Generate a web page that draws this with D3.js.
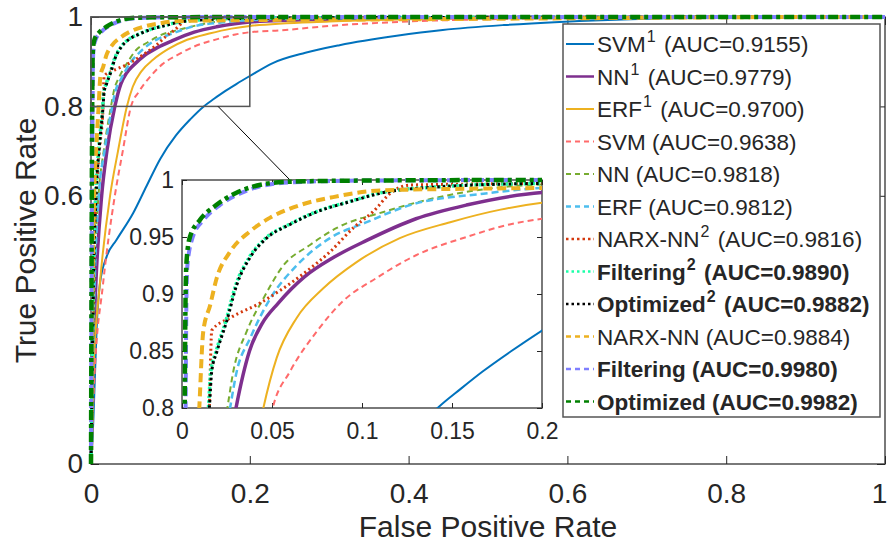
<!DOCTYPE html>
<html>
<head>
<meta charset="utf-8">
<script src="https://cdn.jsdelivr.net/npm/d3@7"></script>
<style>
  body { margin: 0; background: #fff; }
  text { font-family: "Liberation Sans", Arial, Helvetica, sans-serif; fill: #262626; }
</style>
</head>
<body>
<svg id="chart" width="888" height="545"></svg>
<script>
// ROC curves, [false positive rate, true positive rate]
const svm1Roc = [[0,0],[0.003,0.1],[0.005,0.2],[0.0072,0.307],[0.0113,0.404],[0.0197,0.464],[0.032,0.501],[0.053,0.561],[0.07,0.622],[0.087,0.682],[0.107,0.735],[0.125,0.771],[0.142,0.8],[0.155,0.817],[0.167,0.832],[0.183,0.85],[0.2,0.868],[0.229,0.897],[0.27,0.92],[0.313,0.937],[0.385,0.958],[0.443,0.971],[0.52,0.982],[0.59,0.989],[0.7,0.996],[0.8,0.999],[1,1]];
const nn1Roc = [[0,0],[0.002,0.2],[0.006,0.4],[0.0134,0.6],[0.02,0.7],[0.03,0.8],[0.0375,0.85],[0.0445,0.874],[0.0535,0.892],[0.068,0.915],[0.0841,0.932],[0.1026,0.947],[0.13,0.966],[0.158,0.978],[0.2,0.989],[0.3,0.995],[0.5,0.999],[1,1]];
const erf1Roc = [[0,0],[0.003,0.2],[0.011,0.4],[0.024,0.6],[0.034,0.7],[0.0452,0.8],[0.0526,0.844],[0.0637,0.879],[0.0785,0.905],[0.097,0.928],[0.121,0.949],[0.149,0.963],[0.177,0.974],[0.2,0.98],[0.3,0.99],[0.4,0.995],[0.6,0.999],[1,1]];
const svmRoc = [[0,0],[0.0045,0.2],[0.015,0.4],[0.03,0.6],[0.04,0.7],[0.0504,0.8],[0.06,0.832],[0.0748,0.867],[0.0896,0.894],[0.108,0.914],[0.13,0.934],[0.158,0.95],[0.182,0.961],[0.2,0.966],[0.238,0.97],[0.3,0.98],[0.4,0.99],[0.5,0.995],[0.6,0.998],[0.8,1],[1,1]];
const nnRoc = [[0,0],[0.002,0.2],[0.004,0.4],[0.0094,0.6],[0.016,0.7],[0.0252,0.8],[0.0285,0.832],[0.0359,0.867],[0.0452,0.896],[0.0563,0.925],[0.0711,0.943],[0.086,0.958],[0.112,0.972],[0.14,0.984],[0.2,0.996],[0.3,0.998],[0.5,0.9995],[1,1]];
const erfRoc = [[0,0],[0.002,0.2],[0.0045,0.4],[0.0098,0.6],[0.017,0.7],[0.0267,0.8],[0.0304,0.832],[0.0378,0.861],[0.049,0.896],[0.0637,0.925],[0.0822,0.949],[0.1026,0.963],[0.1267,0.978],[0.1674,0.988],[0.2,0.993],[0.3,0.997],[0.5,0.999],[1,1]];
const narx2Roc = [[0,0],[0.0015,0.2],[0.003,0.4],[0.0065,0.6],[0.0105,0.7],[0.0152,0.8],[0.016,0.85],[0.0165,0.868],[0.0267,0.879],[0.0433,0.892],[0.0544,0.903],[0.0693,0.92],[0.0822,0.937],[0.0952,0.958],[0.106,0.972],[0.117,0.99],[0.127,0.9956],[0.2,0.997],[0.4,0.999],[1,1]];
const filter2Roc = [[0,0],[0.0013,0.2],[0.0027,0.4],[0.0058,0.6],[0.0095,0.7],[0.0147,0.8],[0.016,0.832],[0.0188,0.849],[0.0243,0.876],[0.0299,0.908],[0.0373,0.932],[0.0465,0.949],[0.0595,0.961],[0.0743,0.972],[0.0928,0.981],[0.111,0.989],[0.142,0.994],[0.2,0.997],[0.4,0.999],[1,1]];
const optim2Roc = [[0,0],[0.0015,0.2],[0.003,0.4],[0.0063,0.6],[0.01,0.7],[0.0152,0.8],[0.0165,0.832],[0.0193,0.849],[0.0248,0.876],[0.0304,0.908],[0.0378,0.932],[0.047,0.949],[0.06,0.961],[0.0748,0.972],[0.0933,0.981],[0.112,0.989],[0.143,0.994],[0.2,0.997],[0.4,0.999],[1,1]];
const narxRoc = [[0,0],[0.001,0.2],[0.002,0.4],[0.004,0.6],[0.007,0.72],[0.0096,0.8],[0.0118,0.867],[0.0156,0.89],[0.0193,0.914],[0.0267,0.937],[0.0378,0.955],[0.049,0.967],[0.0656,0.978],[0.084,0.985],[0.112,0.991],[0.2,0.993],[0.4,0.995],[0.6,0.997],[0.9,1],[1,1]];
const filterRoc = [[0,0],[0.0006,0.3],[0.0012,0.6],[0.002,0.8],[0.0025,0.9],[0.003,0.925],[0.006,0.95],[0.012,0.965],[0.021,0.978],[0.032,0.988],[0.045,0.995],[0.062,0.998],[0.1,0.9995],[0.2,1],[1,1]];
const optimRoc = [[0,0],[0.0005,0.3],[0.001,0.6],[0.0015,0.8],[0.002,0.9],[0.0025,0.928],[0.0044,0.95],[0.01,0.965],[0.019,0.978],[0.03,0.9886],[0.043,0.9956],[0.06,0.9985],[0.1,0.9995],[0.2,1],[1,1]];

const rocData = [svm1Roc, nn1Roc, erf1Roc, svmRoc, nnRoc, erfRoc, narx2Roc, filter2Roc, optim2Roc, narxRoc, filterRoc, optimRoc];

// legend text
const seriesNames = ["SVM", "NN", "ERF", "SVM", "NN", "ERF", "NARX-NN", "Filtering", "Optimized", "NARX-NN", "Filtering", "Optimized"];
const seriesSup = ["1", "1", "1", "", "", "", "2", "2", "2", "", "", ""];
const aucValues = ["0.9155", "0.9779", "0.9700", "0.9638", "0.9818", "0.9812", "0.9816", "0.9890", "0.9882", "0.9884", "0.9980", "0.9982"];
const seriesBold = [false, false, false, false, false, false, false, true, true, false, true, true];

// ticks
const mainXTicks = [0, 0.2, 0.4, 0.6, 0.8, 1];
const mainYTicks = [0, 0.6, 0.8, 1];
const insetXTicks = [0, 0.05, 0.1, 0.15, 0.2];
const insetYTicks = [0.8, 0.85, 0.9, 0.95, 1];

// line styles
const styles = [
  { color: "#0072BD", width: 2,   dash: null },
  { color: "#7E2F8E", width: 3.5, dash: null },
  { color: "#EDB120", width: 2,   dash: null },
  { color: "#FF6B6B", width: 2,   dash: "6,4" },
  { color: "#77AC30", width: 2,   dash: "6,4" },
  { color: "#4DBEEE", width: 2.5, dash: "7,4" },
  { color: "#D4380D", width: 3,   dash: "2,3" },
  { color: "#1CFFA8", width: 3.5, dash: "2.5,2" },
  { color: "#000000", width: 3,   dash: "2.5,3" },
  { color: "#EDB120", width: 4,   dash: "9,5" },
  { color: "#7F7FFF", width: 4,   dash: "9,5" },
  { color: "#008000", width: 4.5, dash: "10,4,4,4" }
];

const svg = d3.select("#chart");
svg.append("rect").attr("width", 888).attr("height", 545).attr("fill", "#fff");

// scales
const x = d3.scaleLinear().domain([0, 1]).range([91, 885]);
const y = d3.scaleLinear().domain([0, 1]).range([464, 17]);
const xi = d3.scaleLinear().domain([0, 0.2]).range([182, 542]);
const yi = d3.scaleLinear().domain([0.8, 1]).range([408, 180]);

const defs = svg.append("defs");
defs.append("clipPath").attr("id", "clipMain").append("rect")
  .attr("x", x(0) - 3).attr("y", y(1) - 4).attr("width", x(1) - x(0) + 6).attr("height", y(0) - y(1) + 6);
defs.append("clipPath").attr("id", "clipInset").append("rect")
  .attr("x", xi(0)).attr("y", yi(1) - 3).attr("width", xi(0.2) - xi(0)).attr("height", yi(0.8) - yi(1) + 3);

function styleAxis(g, fontSize) {
  g.attr("font-family", null).attr("font-size", fontSize);
  g.select(".domain").remove();
  g.selectAll(".tick line").attr("stroke", "#262626").attr("stroke-width", 1);
  g.selectAll(".tick text").attr("fill", "#262626");
}

function drawAxes(xs, ys, xTicks, yTicks, fontSize, tickLen, padX, padY) {
  const g = svg.append("g");
  const [x0, x1] = xs.range();
  const [y0, y1] = ys.range();
  g.append("rect").attr("x", x0).attr("y", y1).attr("width", x1 - x0).attr("height", y0 - y1)
    .attr("fill", "#fff").attr("stroke", "#4d4d4d").attr("stroke-width", 1.5);
  const bottom = g.append("g").attr("transform", `translate(0,${y0})`)
    .call(d3.axisBottom(xs).tickValues(xTicks).tickSizeInner(-tickLen).tickSizeOuter(0).tickPadding(padX).tickFormat(d => String(d)))
    .call(a => styleAxis(a, fontSize));
  g.append("g").attr("transform", `translate(0,${y1})`)
    .call(d3.axisTop(xs).tickValues(xTicks).tickSizeInner(-tickLen).tickSizeOuter(0).tickFormat(""))
    .call(a => styleAxis(a, fontSize));
  g.append("g").attr("transform", `translate(${x0},0)`)
    .call(d3.axisLeft(ys).tickValues(yTicks).tickSizeInner(-tickLen).tickSizeOuter(0).tickPadding(padY).tickFormat(d => String(d)))
    .call(a => styleAxis(a, fontSize));
  g.append("g").attr("transform", `translate(${x1},0)`)
    .call(d3.axisRight(ys).tickValues(yTicks).tickSizeInner(-tickLen).tickSizeOuter(0).tickFormat(""))
    .call(a => styleAxis(a, fontSize));
  return bottom;
}

function drawCurves(xs, ys, clipId) {
  const line = d3.line().x(d => xs(d[0])).y(d => ys(d[1])).curve(d3.curveMonotoneX);
  svg.append("g").attr("clip-path", `url(#${clipId})`)
    .selectAll("path")
    .data(rocData)
    .join("path")
    .attr("d", line)
    .attr("fill", "none")
    .attr("stroke", (d, i) => styles[i].color)
    .attr("stroke-width", (d, i) => styles[i].width)
    .attr("stroke-dasharray", (d, i) => styles[i].dash)
    .attr("stroke-linejoin", "round");
}

// main axes
const mainBottom = drawAxes(x, y, mainXTicks, mainYTicks, 28, 8, 19, 8);
// keep the last x label inside the picture
mainBottom.selectAll(".tick text").filter(d => d === 1).attr("dx", -6);
drawCurves(x, y, "clipMain");

// axis titles
svg.append("text").attr("x", (x(0) + x(1)) / 2).attr("y", 537)
  .attr("text-anchor", "middle").attr("font-size", 30).text("False Positive Rate");
svg.append("text").attr("transform", `translate(36,${(y(0) + y(1)) / 2}) rotate(-90)`)
  .attr("text-anchor", "middle").attr("font-size", 30).text("True Positive Rate");

// zoom box and connector
svg.append("rect").attr("x", x(0)).attr("y", y(1)).attr("width", x(0.2) - x(0)).attr("height", y(0.8) - y(1))
  .attr("fill", "none").attr("stroke", "#555").attr("stroke-width", 1.5);
svg.append("line").attr("x1", x(0.16)).attr("y1", y(0.8)).attr("x2", xi(0.06)).attr("y2", yi(1))
  .attr("stroke", "#000").attr("stroke-width", 1);

// inset axes
drawAxes(xi, yi, insetXTicks, insetYTicks, 23, 5, 15, 8);
drawCurves(xi, yi, "clipInset");

// legend
const legX = 563, legY = 24, legW = 317, legH = 393, rowH = 32.5, row0 = 44;
const leg = svg.append("g");
leg.append("rect").attr("x", legX).attr("y", legY).attr("width", legW).attr("height", legH)
  .attr("fill", "#fff").attr("stroke", "#555").attr("stroke-width", 1.5);
seriesNames.forEach((name, i) => {
  const cy = row0 + i * rowH;
  const s = styles[i];
  leg.append("line").attr("x1", legX + 3).attr("x2", legX + 31).attr("y1", cy).attr("y2", cy)
    .attr("stroke", s.color).attr("stroke-width", Math.min(s.width, 2.5))
    .attr("stroke-dasharray", s.dash ? (s.dash.startsWith("2") ? "2.5,3" : "5,4") : null);
  const t = leg.append("text").attr("x", legX + 34).attr("y", cy + 8)
    .attr("font-size", 22.5).attr("font-weight", seriesBold[i] ? "bold" : "normal")
    .attr("fill", "#000");
  t.append("tspan").text(name);
  if (seriesSup[i]) {
    t.append("tspan").attr("font-size", 16).attr("dx", 1).attr("dy", -10).text(seriesSup[i]);
    t.append("tspan").attr("dx", 2).attr("dy", 10).text(" (AUC=" + aucValues[i] + ")");
  } else {
    t.append("tspan").text(" (AUC=" + aucValues[i] + ")");
  }
});
</script>
</body>
</html>
